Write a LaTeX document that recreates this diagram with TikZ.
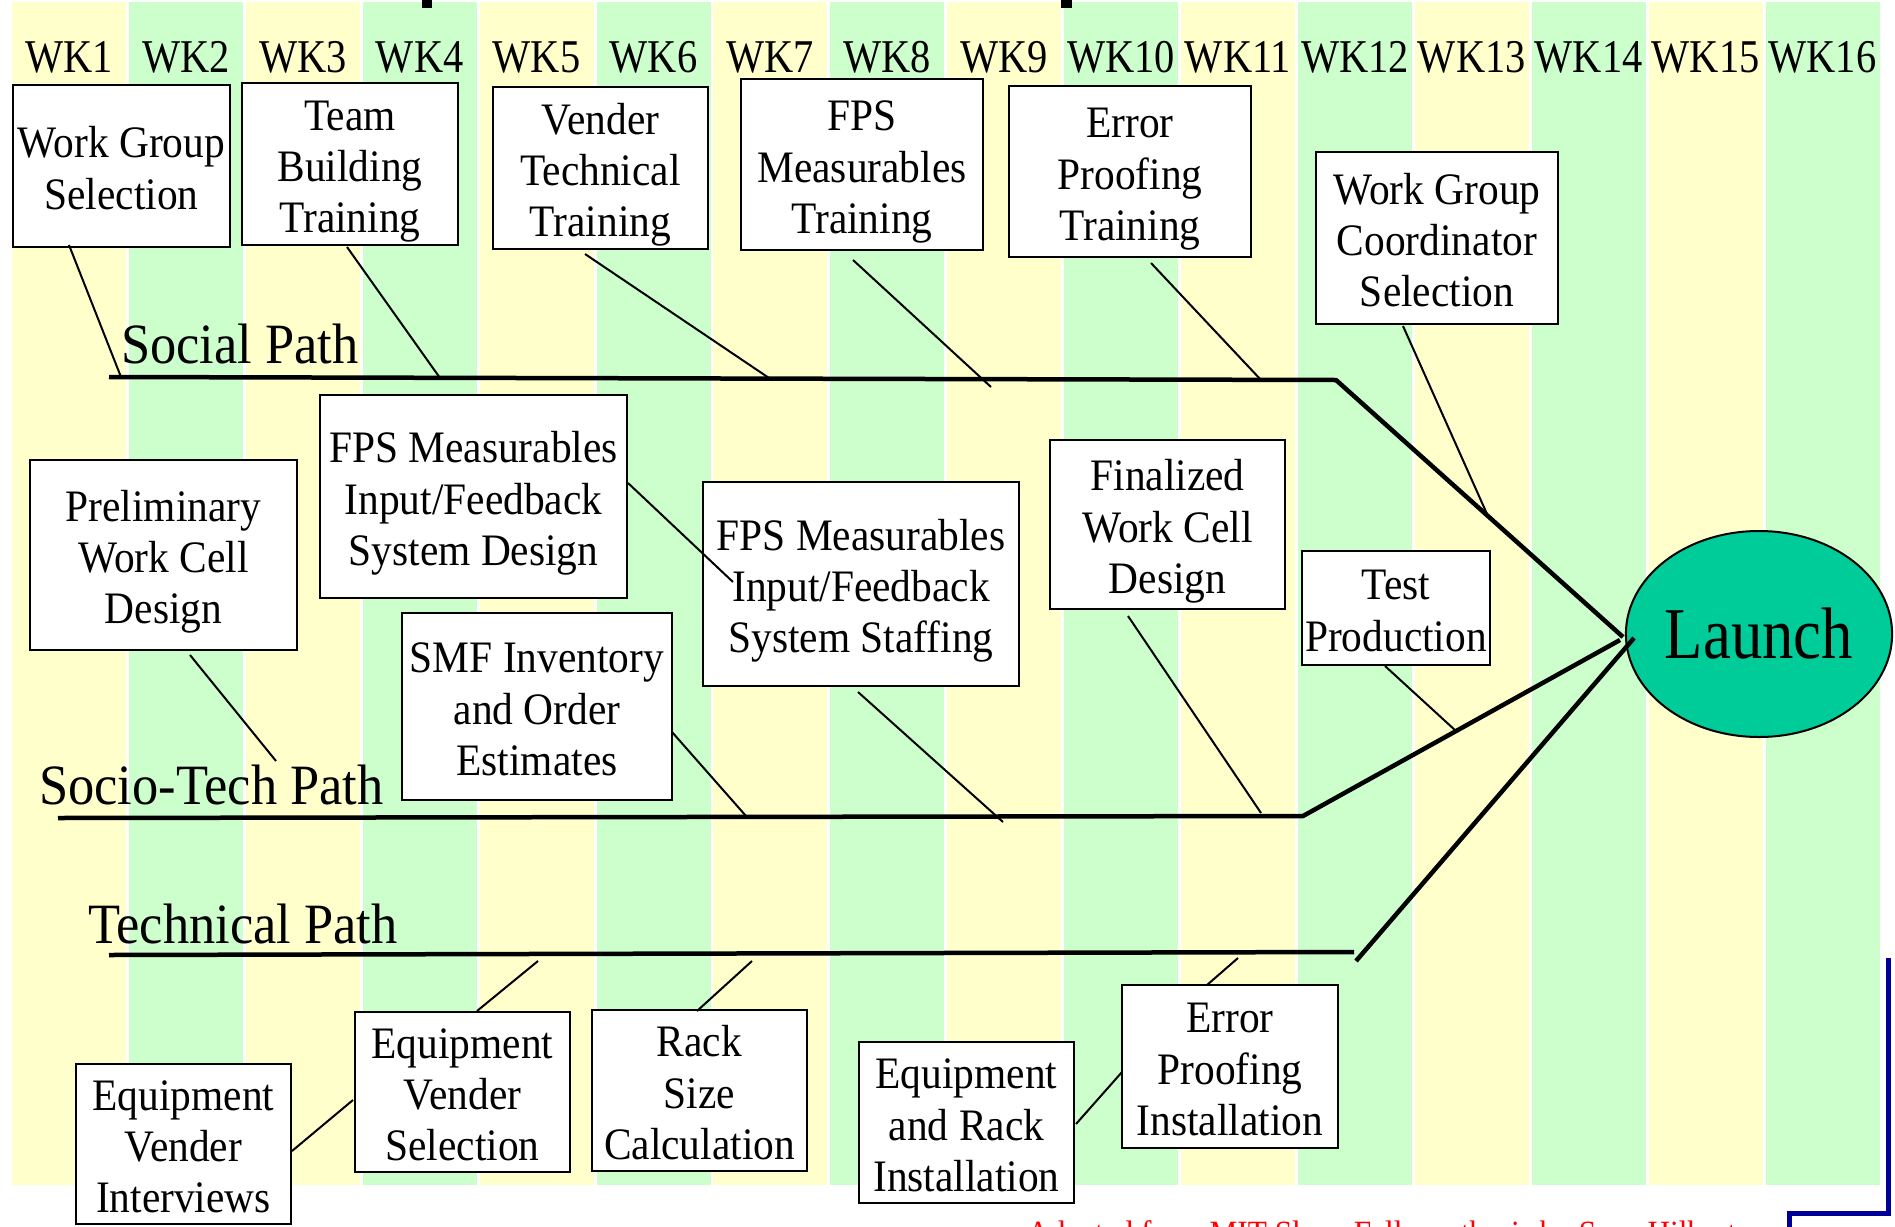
\documentclass[tikz,border=0pt]{standalone}
\usepackage{fontspec}
\usetikzlibrary{shapes.geometric}
\setmainfont{Liberation Serif}[FakeStretch=0.92]
\newfontfamily\hdrfont{Liberation Serif}[FakeStretch=0.86]
\definecolor{stripeY}{HTML}{FFFFCC}
\definecolor{stripeG}{HTML}{CCFFCC}
\definecolor{launchfill}{HTML}{00CC99}
\definecolor{darkblue}{RGB}{0,0,153}
\newcommand\topst{\rule{0pt}{45pt}}
\newcommand\botst{\rule[-10pt]{0pt}{10pt}}
\tikzset{
  bx/.style={draw=black, line width=2.5pt, fill=white, align=center, inner sep=0pt,
     font=\fontsize{45}{51.4}\selectfont},
  hdr/.style={font=\hdrfont\fontsize{47}{50}\selectfont, inner sep=0pt, anchor=base},
  pathlabel/.style={font=\fontsize{57}{60}\selectfont, inner sep=0pt, anchor=base west},
  spine/.style={line width=4.5pt, line join=bevel},
  conn/.style={line width=2pt},
}
\begin{document}
\begin{tikzpicture}[x=1pt,y=-1pt]
\useasboundingbox (0,0) rectangle (1895,1226);
\clip (0,0) rectangle (1895,1226);
\fill[white] (0,0) rectangle (1895,1226);
% stripes
\foreach \i in {0,2,...,14} {\fill[stripeY] ({12+\i*116.9},2) rectangle ++(114,1183);}
\foreach \i in {1,3,...,15} {\fill[stripeG] ({12+\i*116.9},2) rectangle ++(114,1183);}
% fragments of cut-off title
\fill[black] (422,0) rectangle (432,8);
\fill[black] (1061,0) rectangle (1072,8);
% week headers
\foreach \i in {1,...,16} {\node[hdr] (wk\i) at ({12+(\i-1)*116.9+57},72) {WK\i};}

% spines
\coordinate (s0) at (109,377);
\coordinate (s1) at (1336,380);
\coordinate (t0) at (58,818);
\coordinate (t1) at (1303,816);
\coordinate (u0) at (109,955);
\coordinate (u1) at (1354,952);
\coordinate (u2) at (1356,961);

% launch
\node[ellipse, draw=black, line width=2pt, fill=launchfill, minimum width=258, minimum height=206,
      inner sep=0pt, font=\hdrfont\fontsize{73}{76}\selectfont] (launch) at (1759,634) {Launch};
\coordinate (l1) at (1623,637);
\coordinate (l2) at (1620,640);
\coordinate (l3) at (1634,638);

\draw[spine] (s0) -- (s1) -- (l1);
\draw[spine] (t0) -- (t1) -- (l2);
\draw[spine] (u0) -- (u1);
\draw[spine] (u2) -- (l3);

% path labels
\node[pathlabel] (social) at (121,363) {Social Path};
\node[pathlabel] (sociotech) at (39,804) {Socio-Tech Path};
\node[pathlabel] (technical) at (88,943) {Technical Path};

% boxes
\node[bx, minimum width=217, minimum height=162] (wgs) at (121.5,166) {\topst Work Group\\Selection\botst};
\node[bx, minimum width=216, minimum height=162] (tbt) at (350,164) {\topst Team\\Building\\Training\botst};
\node[bx, minimum width=215, minimum height=162] (vtt) at (600.5,168) {\topst Vender\\Technical\\Training\botst};
\node[bx, minimum width=242, minimum height=171] (fmt) at (862,164.5) {\topst FPS\\Measurables\\Training\botst};
\node[bx, minimum width=242, minimum height=171] (ept) at (1130,171.5) {\topst Error\\Proofing\\Training\botst};
\node[bx, minimum width=242, minimum height=172] (wgc) at (1437,238) {\topst Work Group\\Coordinator\\Selection\botst};
\node[bx, minimum width=307, minimum height=203] (fid) at (473.5,496.5) {\topst FPS Measurables\\Input/Feedback\\System Design\botst};
\node[bx, minimum width=267, minimum height=190] (pwc) at (163.5,555) {\topst Preliminary\\Work Cell\\Design\botst};
\node[bx, minimum width=316, minimum height=204] (fis) at (861,584) {\topst FPS Measurables\\Input/Feedback\\System Staffing\botst};
\node[bx, minimum width=235, minimum height=169] (fwc) at (1167.5,524.5) {\topst Finalized\\Work Cell\\Design\botst};
\node[bx, minimum width=188, minimum height=114] (tp) at (1396,608) {\topst Test\\Production\botst};
\node[bx, minimum width=270, minimum height=187] (smf) at (537,706.5) {\topst SMF Inventory\\and Order\\Estimates\botst};
\node[bx, minimum width=215, minimum height=160] (evi) at (183.5,1144) {\topst Equipment\\Vender\\Interviews\botst};
\node[bx, minimum width=215, minimum height=160] (evs) at (462.5,1092) {\topst Equipment\\Vender\\Selection\botst};
\node[bx, minimum width=215, minimum height=161] (rsc) at (699.5,1090.5) {\topst Rack\\Size\\Calculation\botst};
\node[bx, minimum width=215, minimum height=161] (eri) at (966.5,1122.5) {\topst Equipment\\and Rack\\Installation\botst};
\node[bx, minimum width=216, minimum height=163] (epi) at (1230,1066.5) {\topst Error\\Proofing\\Installation\botst};

% connector end points
\coordinate (a1) at (69,245);   \coordinate (b1) at (121,377);
\coordinate (a2) at (347,247);  \coordinate (b2) at (440,378);
\coordinate (a3) at (585,254);  \coordinate (b3) at (769,378);
\coordinate (a4) at (853,260);  \coordinate (b4) at (991,387);
\coordinate (a5) at (1151,263); \coordinate (b5) at (1261,380);
\coordinate (a6) at (1403,326); \coordinate (b6) at (1487,514);
\coordinate (a7) at (628,483);  \coordinate (b7) at (733,582);
\coordinate (a8) at (190,655);  \coordinate (b8) at (276,761);
\coordinate (a9) at (672,732);  \coordinate (b9) at (746,816);
\coordinate (a10) at (858,692); \coordinate (b10) at (1003,822);
\coordinate (a11) at (1128,616);\coordinate (b11) at (1261,813);
\coordinate (a12) at (1385,666);\coordinate (b12) at (1456,731);
\coordinate (a13) at (477,1011); \coordinate (b13) at (538,961);
\coordinate (a14) at (697,1011); \coordinate (b14) at (752,961);
\coordinate (a15) at (292,1151); \coordinate (b15) at (353,1100);
\coordinate (a16) at (1076,1124);\coordinate (b16) at (1122,1072);
\coordinate (a17) at (1207,985); \coordinate (b17) at (1238,958);

\foreach \k in {1,...,17} {\draw[conn] (a\k) -- (b\k);}

% blue corner lines
\draw[darkblue, line width=5pt] (1888,958) -- (1888,1213) -- (1789,1213) -- (1789,1240);

% credit line (cut off at the bottom, as in the reference)
\node[anchor=base west, text=red, inner sep=0pt, font=\fontsize{34}{40}\selectfont] (credit) at (1027,1244)
  {Adapted from MIT Sloan Fellows thesis by Sean Hilbert};
\end{tikzpicture}
\end{document}
